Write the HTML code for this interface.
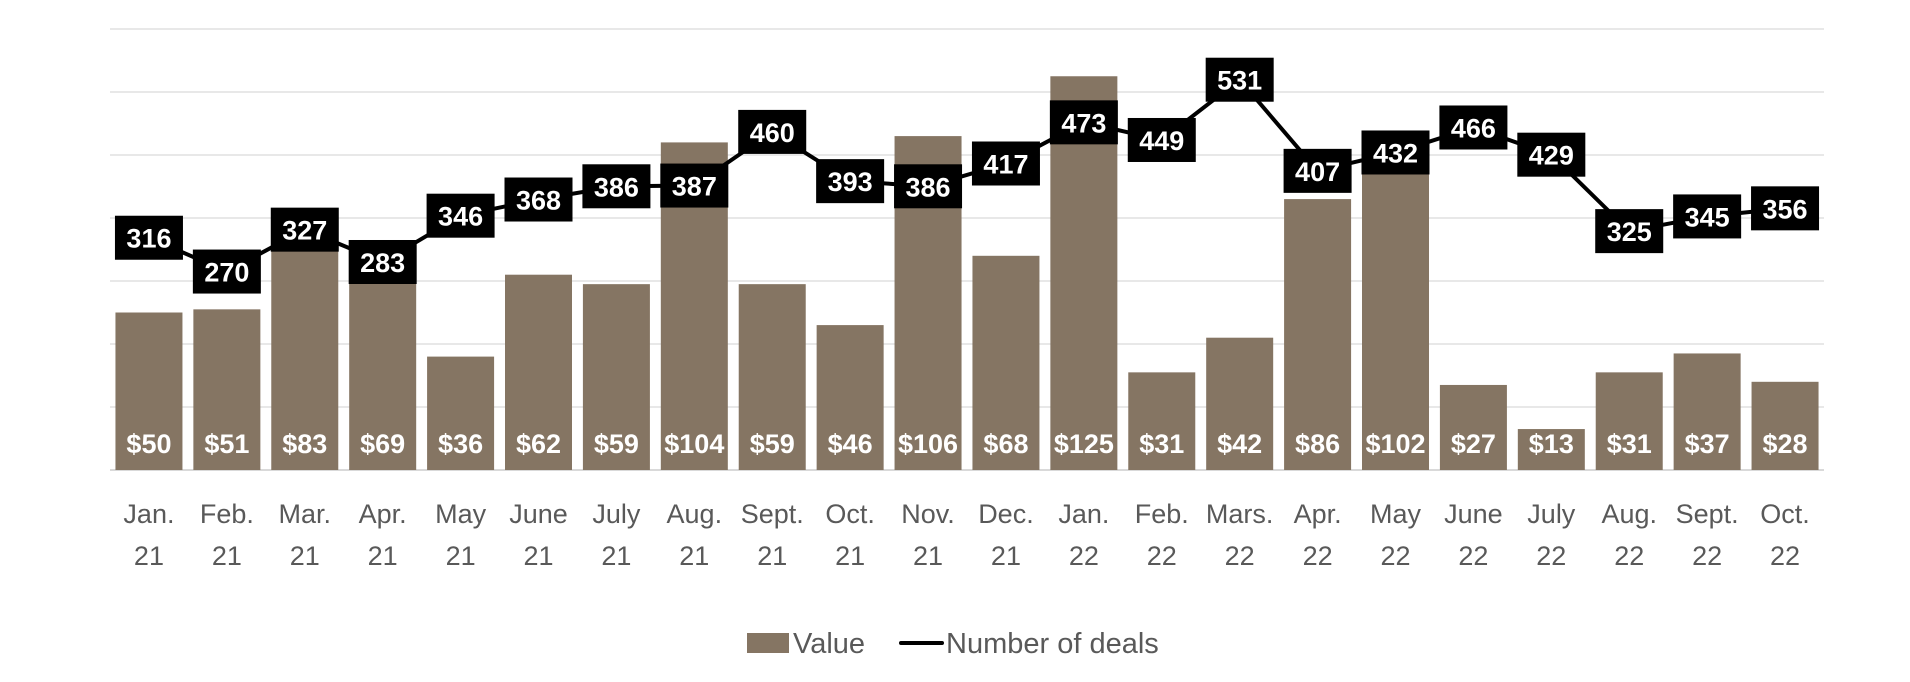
<!DOCTYPE html>
<html><head><meta charset="utf-8">
<style>
html,body{margin:0;padding:0;background:#fff;}
svg{display:block;font-family:"Liberation Sans",sans-serif;}
</style></head>
<body>
<svg id="chart" width="1910" height="682" viewBox="0 0 1910 682" xmlns="http://www.w3.org/2000/svg"></svg>
<script>
const months = ["Jan.","Feb.","Mar.","Apr.","May","June","July","Aug.","Sept.","Oct.","Nov.","Dec.","Jan.","Feb.","Mars.","Apr.","May","June","July","Aug.","Sept.","Oct."];
const years = ["21","21","21","21","21","21","21","21","21","21","21","21","22","22","22","22","22","22","22","22","22","22"];
const values = [50,51,83,69,36,62,59,104,59,46,106,68,125,31,42,86,102,27,13,31,37,28];
const deals = [316,270,327,283,346,368,386,387,460,393,386,417,473,449,531,407,432,466,429,325,345,356];
const valueTicks = [0,20,40,60,80,100,120,140];

const NS="http://www.w3.org/2000/svg";
const svg=document.getElementById('chart');
const X0=110, X1=1824, Y0=470, YTOP=29;
const band=(X1-X0)/months.length;
const barW=band*0.86;
const valMax=140, dealMax=600;
function xC(i){return X0+band*(i+0.5);}
function yV(v){return Y0-(v/valMax)*(Y0-YTOP);}
function yD(v){return Y0-(v/dealMax)*(Y0-YTOP);}
function mk(tag,attrs){const e=document.createElementNS(NS,tag);for(const k in attrs)e.setAttribute(k,attrs[k]);svg.appendChild(e);return e;}

valueTicks.forEach((t)=>{
  const g=mk('line',{x1:X0,x2:X1,y1:yV(t),y2:yV(t),stroke:'#d9d9d9','stroke-width':t===0?2:1.3});
  
  
});

values.forEach((v,i)=>{
  const r=mk('rect',{x:xC(i)-barW/2,y:yV(v),width:barW,height:Y0-yV(v),fill:'#857563'});
  
  
  const t=mk('text',{x:xC(i),y:453,'text-anchor':'middle','font-size':27,'font-weight':'bold',fill:'#fff'});
  t.textContent='$'+v;
  
  
});

const pts=deals.map((d,i)=>xC(i)+','+yD(d)).join(' ');
const pl=mk('polyline',{points:pts,fill:'none',stroke:'#000','stroke-width':4,'stroke-linejoin':'round'});



deals.forEach((d,i)=>{
  const b=mk('rect',{x:xC(i)-34,y:yD(d)-22,width:68,height:44,fill:'#000'});
  
  
  const t=mk('text',{x:xC(i),y:yD(d)+10,'text-anchor':'middle','font-size':27,'font-weight':'bold',fill:'#fff'});
  t.textContent=d;
  
  
});

months.forEach((m,i)=>{
  const t=mk('text',{x:xC(i),y:523,'text-anchor':'middle','font-size':27,fill:'#595959'});
  t.textContent=m;
  
  
  const t2=mk('text',{x:xC(i),y:565,'text-anchor':'middle','font-size':27,fill:'#595959'});
  t2.textContent=years[i];
  
  
});
</script>
<svg style="position:absolute;left:0;top:0" width="1910" height="682">
<rect x="747" y="633" width="42" height="20" fill="#857563"/>
<text x="793" y="653" font-size="29" fill="#595959" font-family="Liberation Sans, sans-serif">Value</text>
<line x1="901" y1="643" x2="942" y2="643" stroke="#000" stroke-width="4" stroke-linecap="round"/>
<text x="946" y="653" font-size="29" fill="#595959" font-family="Liberation Sans, sans-serif">Number of deals</text>
</svg>
</body></html>
